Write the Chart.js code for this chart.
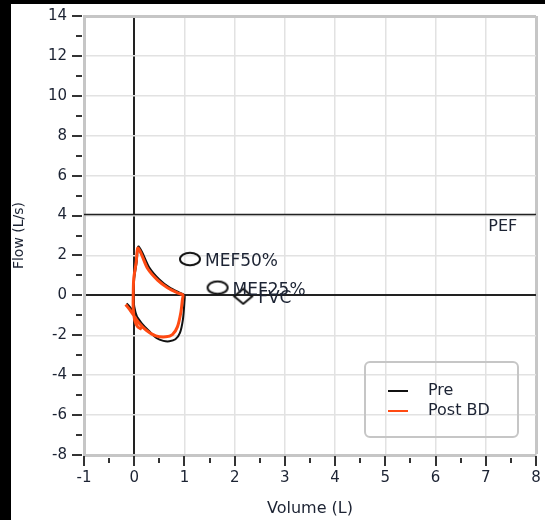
<!DOCTYPE html>
<html>
<head>
<meta charset="utf-8">
<script src="https://cdn.jsdelivr.net/npm/chart.js@4"></script>
<style>
  html, body { margin: 0; padding: 0; background: #fff; }
  canvas { display: block; }
</style>
</head>
<body>
<canvas id="flowChart" width="545" height="520"></canvas>
<script>
// axis ranges
const xMin = -1, xMax = 8;
const yMin = -8, yMax = 14;

// Pre (black) flow-volume loop
const preVolume = [-0.15, -0.05, 0.05, 0.15, 0.3, 0.45, 0.58, 0.7, 0.82, 0.91, 0.97, 1.0, 1.0, 0.89, 0.7, 0.5, 0.3, 0.16, 0.08, 0.05, 0.0, -0.01, 0.0, 0.06, 0.15];
const preFlow   = [-0.4, -0.7, -1.05, -1.4, -1.8, -2.15, -2.28, -2.3, -2.2, -1.88, -1.2, -0.3, 0.02, 0.15, 0.4, 0.8, 1.4, 2.15, 2.45, 1.7, 0.85, 0, -0.55, -1.1, -1.45];

// Post BD (orange) flow-volume loop
const postVolume = [-0.17, -0.08, 0.01, 0.1, 0.24, 0.43, 0.63, 0.76, 0.86, 0.93, 0.96, 0.97, 0.86, 0.67, 0.47, 0.27, 0.14, 0.07, 0.04, -0.01, -0.02, -0.02, 0.01, 0.07, 0.15];
const postFlow   = [-0.46, -0.75, -1.08, -1.4, -1.75, -2.03, -2.08, -1.97, -1.58, -0.83, -0.2, 0.02, 0.13, 0.37, 0.75, 1.33, 2.08, 2.37, 1.67, 0.83, 0, -0.67, -1.25, -1.58, -1.7];

// predicted markers
const markerNames  = ['MEF50%', 'MEF25%', 'FVC'];
const markerVolume = [1.11, 1.66, 2.17];
const markerFlow   = [1.82, 0.39, -0.05];

// peak expiratory flow reference line
const pefFlow = 4.05;

const textColor = '#1c2333';
const gridColor = '#e2e2e2';
const frameColor = '#c6c6c6';
const fontFamily = '"DejaVu Sans", sans-serif';

Chart.defaults.font.family = fontFamily;
Chart.defaults.color = textColor;

function toPoints(xs, ys) {
  return xs.map((x, i) => ({ x: x, y: ys[i] }));
}

// open ellipse and diamond marker images
function ellipseMarker() {
  const c = document.createElement('canvas');
  c.width = 24; c.height = 16;
  const g = c.getContext('2d');
  g.strokeStyle = '#111';
  g.lineWidth = 2;
  g.beginPath();
  g.ellipse(12, 8, 10, 6.3, 0, 0, Math.PI * 2);
  g.stroke();
  return c;
}
function diamondMarker() {
  const c = document.createElement('canvas');
  c.width = 22; c.height = 18;
  const g = c.getContext('2d');
  g.strokeStyle = '#111';
  g.lineWidth = 2;
  g.beginPath();
  g.moveTo(11, 1.5); g.lineTo(20, 9); g.lineTo(11, 16.5); g.lineTo(2, 9);
  g.closePath();
  g.stroke();
  return c;
}
const ell = ellipseMarker();
const dia = diamondMarker();

const frame = {
  id: 'frame',
  beforeDraw(chart) {
    const ctx = chart.ctx;
    ctx.save();
    ctx.fillStyle = '#fff';
    ctx.fillRect(0, 0, chart.width, chart.height);
    ctx.fillStyle = '#000';
    ctx.fillRect(0, 0, 11, chart.height);
    ctx.fillRect(0, 0, chart.width, 4);
    ctx.restore();
  },
  afterDraw(chart) {
    const ctx = chart.ctx;
    const xs = chart.scales.x, ys = chart.scales.y;
    const area = chart.chartArea;
    ctx.save();
    // tick marks
    ctx.strokeStyle = '#333';
    ctx.lineWidth = 2;
    xs.ticks.forEach(t => {
      const px = Math.round(xs.getPixelForValue(t.value));
      const major = Number.isInteger(t.value);
      ctx.beginPath();
      ctx.moveTo(px, area.bottom + (major ? 1 : 3));
      ctx.lineTo(px, area.bottom + (major ? 11 : 8));
      ctx.stroke();
    });
    ys.ticks.forEach(t => {
      const py = Math.round(ys.getPixelForValue(t.value));
      const major = t.value % 2 === 0;
      ctx.beginPath();
      ctx.moveTo(area.left - (major ? 12 : 8), py);
      ctx.lineTo(area.left - 2, py);
      ctx.stroke();
    });

    // marker labels
    ctx.fillStyle = textColor;
    ctx.font = '17px ' + fontFamily;
    ctx.textBaseline = 'middle';
    ctx.textAlign = 'left';
    const meta = chart.getDatasetMeta(3);
    meta.data.forEach((el, i) => {
      ctx.fillText(markerNames[i], el.x + 15, el.y + 2.5);
    });
    ctx.font = '16px ' + fontFamily;
    ctx.fillText('PEF', xs.getPixelForValue(7.05), ys.getPixelForValue(pefFlow) + 12);

    // legend
    const lx = 365, ly = 362, lw = 153, lh = 75;
    ctx.strokeStyle = frameColor;
    ctx.lineWidth = 2;
    ctx.beginPath();
    ctx.roundRect(lx, ly, lw, lh, 5);
    ctx.stroke();
    [1, 0].forEach((di, row) => {
      const ds = chart.data.datasets[di];
      const y = 391 + row * 20;
      ctx.strokeStyle = ds.borderColor;
      ctx.lineWidth = 2;
      ctx.beginPath();
      ctx.moveTo(388, y);
      ctx.lineTo(408, y);
      ctx.stroke();
      ctx.fillStyle = textColor;
      ctx.fillText(ds.label, 428, y);
    });
    ctx.restore();
  }
};

const config = {
  type: 'scatter',
  data: {
    datasets: [
      {
        label: 'Post BD',
        data: toPoints(postVolume, postFlow),
        showLine: true,
        borderColor: '#ff4a12',
        borderWidth: 3,
        pointRadius: 0,
        tension: 0.25,
        order: 0
      },
      {
        label: 'Pre',
        data: toPoints(preVolume, preFlow),
        showLine: true,
        borderColor: '#111111',
        borderWidth: 2,
        pointRadius: 0,
        tension: 0.25,
        order: 1
      },
      {
        label: 'PEF',
        data: toPoints([xMin, xMax], [pefFlow, pefFlow]),
        showLine: true,
        borderColor: '#222',
        borderWidth: 1.5,
        pointRadius: 0,
        order: 2
      },
      {
        label: 'Markers',
        data: toPoints(markerVolume, markerFlow),
        showLine: false,
        pointStyle: [ell, ell, dia],
        pointRadius: 8,
        order: 3
      }
    ]
  },
  options: {
    responsive: false,
    animation: false,
    layout: { padding: { top: 16, right: 6, bottom: 0, left: 0 } },
    plugins: {
      legend: { display: false },
      tooltip: { enabled: false }
    },
    scales: {
      x: {
        type: 'linear',
        min: xMin,
        max: xMax,
        afterFit(scale) {
          scale.height = 65;
          scale.paddingLeft = 0;
          scale.paddingRight = 0;
        },
        ticks: {
          stepSize: 0.5,
          autoSkip: false,
          maxRotation: 0,
          padding: 14,
          font: { size: 15 },
          callback: v => Number.isInteger(v) ? String(v) : ''
        },
        grid: {
          drawTicks: false,
          color: c => c.tick.value === 0 ? '#222' : (c.tick.value === xMax ? frameColor : (Number.isInteger(c.tick.value) ? gridColor : 'rgba(0,0,0,0)')),
          lineWidth: c => c.tick.value === 0 ? 2 : (c.tick.value === xMax ? 3 : 1.5)
        },
        border: { color: frameColor, width: 3 },
        title: {
          display: true,
          text: 'Volume (L)',
          font: { size: 16 },
          padding: { top: 0, bottom: 2 }
        }
      },
      y: {
        type: 'linear',
        min: yMin,
        max: yMax,
        afterFit(scale) {
          scale.width = 84;
          scale.paddingTop = 0;
          scale.paddingBottom = 0;
        },
        ticks: {
          stepSize: 1,
          autoSkip: false,
          padding: 17,
          font: { size: 15 },
          callback: v => v % 2 === 0 ? String(v) : ''
        },
        grid: {
          drawTicks: false,
          color: c => c.tick.value === 0 ? '#222' : (c.tick.value === yMax ? frameColor : (c.tick.value % 2 === 0 ? gridColor : 'rgba(0,0,0,0)')),
          lineWidth: c => c.tick.value === 0 ? 2 : (c.tick.value === yMax ? 3 : 1.5)
        },
        border: { color: frameColor, width: 3 },
        title: {
          display: true,
          text: 'Flow (L/s)',
          font: { size: 14 },
          padding: { top: 11, bottom: 0 }
        }
      }
    }
  },
  plugins: [frame]
};

const flowChart = new Chart(document.getElementById('flowChart'), config);
</script>
</body>
</html>
